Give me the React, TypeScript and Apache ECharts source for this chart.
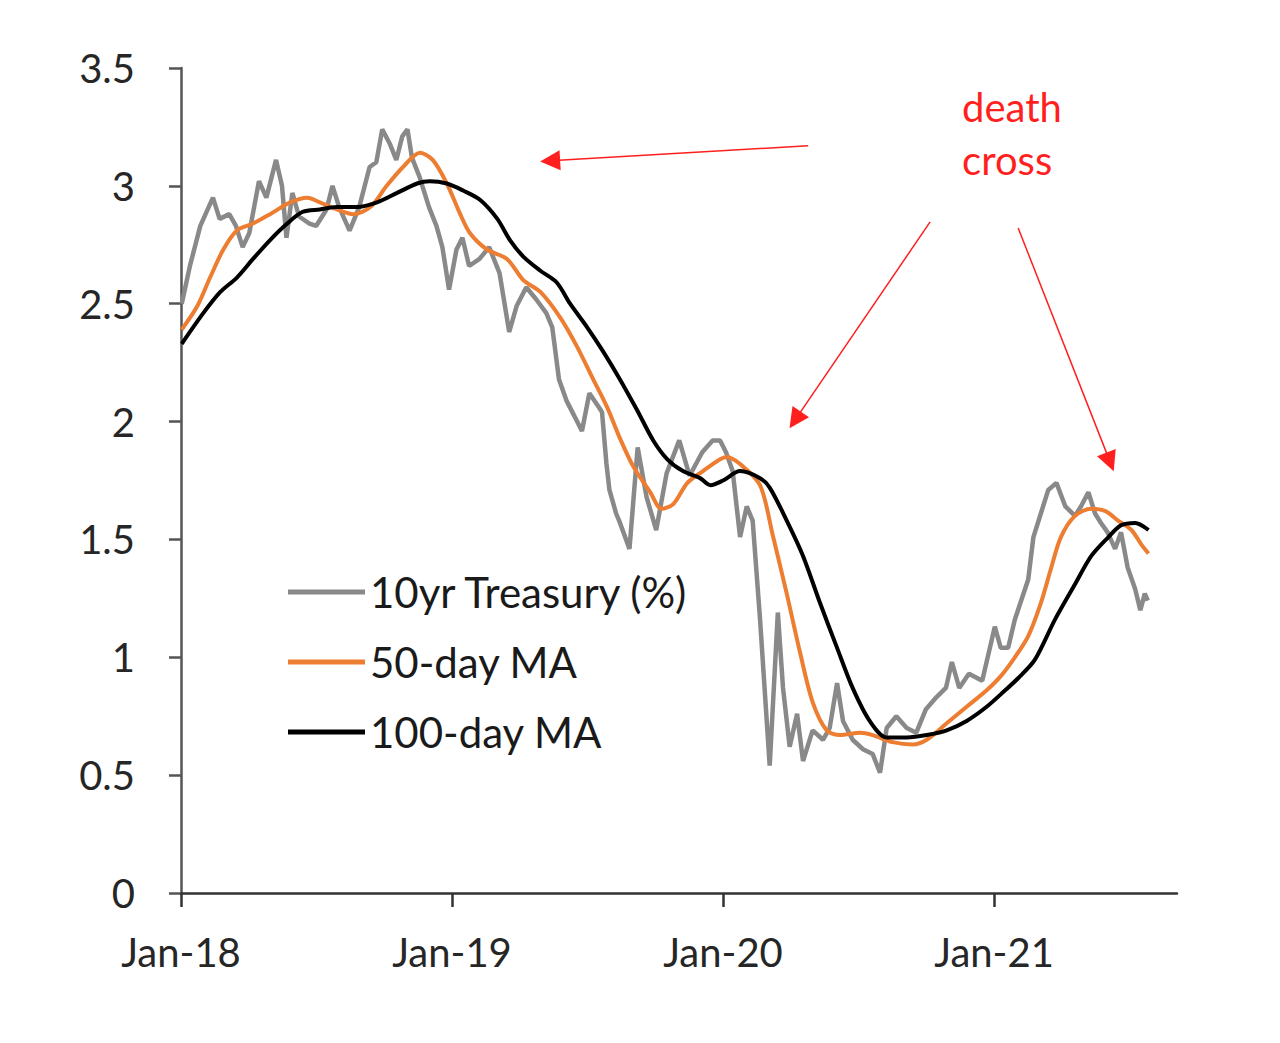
import React, { useEffect, useRef } from 'react';
import * as echarts from 'echarts';

// 10yr Treasury yield (%)
const treasury: [string, number][] = [
  ['2018-01-02', 2.5], ['2018-01-13', 2.66], ['2018-01-27', 2.83], ['2018-02-13', 2.95],
  ['2018-02-22', 2.86], ['2018-03-07', 2.88], ['2018-03-16', 2.83], ['2018-03-25', 2.74],
  ['2018-04-03', 2.8], ['2018-04-16', 3.02], ['2018-04-26', 2.95], ['2018-05-09', 3.11],
  ['2018-05-17', 3.0], ['2018-05-23', 2.78], ['2018-05-31', 2.97], ['2018-06-09', 2.87],
  ['2018-06-23', 2.84], ['2018-07-02', 2.83], ['2018-07-16', 2.9], ['2018-07-24', 3.0],
  ['2018-08-02', 2.91], ['2018-08-16', 2.81], ['2018-08-29', 2.91], ['2018-09-12', 3.08],
  ['2018-09-21', 3.1], ['2018-09-29', 3.24], ['2018-10-09', 3.18], ['2018-10-18', 3.11],
  ['2018-10-26', 3.21], ['2018-11-02', 3.24], ['2018-11-08', 3.12], ['2018-11-18', 3.04],
  ['2018-12-01', 2.91], ['2018-12-11', 2.83], ['2018-12-19', 2.74], ['2018-12-28', 2.56],
  ['2019-01-07', 2.73], ['2019-01-15', 2.78], ['2019-01-24', 2.66], ['2019-02-07', 2.69],
  ['2019-02-20', 2.74], ['2019-03-06', 2.63], ['2019-03-19', 2.38], ['2019-03-29', 2.49],
  ['2019-04-11', 2.57], ['2019-04-24', 2.52], ['2019-05-08', 2.46], ['2019-05-16', 2.4],
  ['2019-05-25', 2.18], ['2019-06-04', 2.09], ['2019-06-17', 2.01], ['2019-06-25', 1.96],
  ['2019-07-05', 2.12], ['2019-07-18', 2.06], ['2019-07-22', 2.04], ['2019-07-28', 1.82],
  ['2019-08-01', 1.71], ['2019-08-10', 1.61], ['2019-08-14', 1.58], ['2019-08-28', 1.46],
  ['2019-09-08', 1.89], ['2019-09-20', 1.68], ['2019-10-03', 1.54], ['2019-10-17', 1.78],
  ['2019-11-03', 1.92], ['2019-11-17', 1.77], ['2019-12-04', 1.87], ['2019-12-18', 1.92],
  ['2019-12-28', 1.92], ['2020-01-05', 1.87], ['2020-01-14', 1.79], ['2020-01-24', 1.51],
  ['2020-02-02', 1.64], ['2020-02-10', 1.58], ['2020-02-20', 1.16], ['2020-03-04', 0.54],
  ['2020-03-15', 1.19], ['2020-03-22', 0.87], ['2020-03-31', 0.62], ['2020-04-10', 0.76],
  ['2020-04-18', 0.56], ['2020-05-01', 0.69], ['2020-05-15', 0.65], ['2020-05-24', 0.7],
  ['2020-06-03', 0.89], ['2020-06-11', 0.73], ['2020-06-24', 0.65], ['2020-07-08', 0.61],
  ['2020-07-21', 0.59], ['2020-07-31', 0.51], ['2020-08-09', 0.7], ['2020-08-22', 0.75],
  ['2020-09-05', 0.7], ['2020-09-18', 0.68], ['2020-10-01', 0.78], ['2020-10-15', 0.83],
  ['2020-10-28', 0.87], ['2020-11-05', 0.98], ['2020-11-15', 0.87], ['2020-11-28', 0.93],
  ['2020-12-16', 0.9], ['2021-01-02', 1.13], ['2021-01-10', 1.04], ['2021-01-20', 1.04],
  ['2021-01-29', 1.16], ['2021-02-16', 1.33], ['2021-02-23', 1.51], ['2021-03-05', 1.61],
  ['2021-03-15', 1.71], ['2021-03-26', 1.74], ['2021-04-07', 1.64], ['2021-04-20', 1.6],
  ['2021-04-28', 1.64], ['2021-05-08', 1.7], ['2021-05-17', 1.61], ['2021-05-25', 1.57],
  ['2021-06-03', 1.53], ['2021-06-13', 1.46], ['2021-06-21', 1.53], ['2021-06-30', 1.38],
  ['2021-07-10', 1.29], ['2021-07-17', 1.2], ['2021-07-23', 1.27], ['2021-07-27', 1.24],
];

const ma50: [string, number][] = [
  ['2018-01-02', 2.39], ['2018-01-23', 2.49], ['2018-02-09', 2.61], ['2018-02-27', 2.73],
  ['2018-03-17', 2.81], ['2018-04-08', 2.84], ['2018-05-01', 2.88], ['2018-05-28', 2.93],
  ['2018-06-20', 2.95], ['2018-07-07', 2.93], ['2018-07-30', 2.9], ['2018-08-21', 2.88],
  ['2018-09-13', 2.91], ['2018-10-05', 3.0], ['2018-10-27', 3.08], ['2018-11-19', 3.14],
  ['2018-12-06', 3.11], ['2018-12-25', 3.01], ['2019-01-12', 2.88], ['2019-01-25', 2.8],
  ['2019-02-17', 2.73], ['2019-03-16', 2.69], ['2019-04-07', 2.6], ['2019-04-30', 2.55],
  ['2019-05-27', 2.44], ['2019-06-18', 2.32], ['2019-07-10', 2.18], ['2019-07-29', 2.06],
  ['2019-08-15', 1.93], ['2019-09-02', 1.81], ['2019-09-25', 1.7], ['2019-10-10', 1.63],
  ['2019-10-26', 1.65], ['2019-11-14', 1.74], ['2019-12-05', 1.79], ['2019-12-28', 1.84],
  ['2020-01-06', 1.85], ['2020-01-24', 1.82], ['2020-02-20', 1.73], ['2020-03-08', 1.52],
  ['2020-03-27', 1.27], ['2020-04-14', 1.02], ['2020-05-01', 0.81], ['2020-05-20', 0.69],
  ['2020-06-07', 0.67], ['2020-07-04', 0.68], ['2020-07-21', 0.67], ['2020-08-17', 0.64],
  ['2020-09-13', 0.63], ['2020-10-02', 0.65], ['2020-10-29', 0.72], ['2020-11-25', 0.79],
  ['2020-12-22', 0.86], ['2021-01-10', 0.92], ['2021-01-29', 1.0], ['2021-02-16', 1.09],
  ['2021-03-05', 1.23], ['2021-03-19', 1.38], ['2021-04-01', 1.51], ['2021-04-20', 1.6],
  ['2021-05-12', 1.63], ['2021-05-31', 1.62], ['2021-06-17', 1.58], ['2021-07-05', 1.54],
  ['2021-07-18', 1.48], ['2021-07-28', 1.44],
];

const ma100: [string, number][] = [
  ['2018-01-02', 2.33], ['2018-01-31', 2.46], ['2018-02-23', 2.55], ['2018-03-17', 2.61],
  ['2018-04-08', 2.69], ['2018-05-01', 2.77], ['2018-05-24', 2.84], ['2018-06-14', 2.89],
  ['2018-07-07', 2.9], ['2018-07-30', 2.91], ['2018-08-26', 2.91], ['2018-09-22', 2.93],
  ['2018-10-19', 2.97], ['2018-11-15', 3.01], ['2018-12-02', 3.02], ['2018-12-25', 3.01],
  ['2019-01-16', 2.98], ['2019-02-08', 2.94], ['2019-03-03', 2.86], ['2019-03-20', 2.77],
  ['2019-04-07', 2.7], ['2019-04-30', 2.64], ['2019-05-22', 2.59], ['2019-06-09', 2.5],
  ['2019-07-02', 2.4], ['2019-07-23', 2.3], ['2019-08-15', 2.18], ['2019-09-07', 2.05],
  ['2019-09-29', 1.92], ['2019-10-18', 1.84], ['2019-11-08', 1.79], ['2019-12-01', 1.76],
  ['2019-12-15', 1.73], ['2020-01-01', 1.75], ['2020-01-24', 1.79], ['2020-02-20', 1.76],
  ['2020-03-04', 1.72], ['2020-03-27', 1.58], ['2020-04-18', 1.43], ['2020-05-11', 1.23],
  ['2020-06-03', 1.04], ['2020-06-24', 0.87], ['2020-07-17', 0.73], ['2020-08-09', 0.66],
  ['2020-09-05', 0.66], ['2020-10-02', 0.67], ['2020-10-29', 0.69], ['2020-11-25', 0.73],
  ['2020-12-22', 0.79], ['2021-01-16', 0.86], ['2021-02-02', 0.91], ['2021-02-25', 0.99],
  ['2021-03-24', 1.16], ['2021-04-20', 1.31], ['2021-05-12', 1.43], ['2021-06-04', 1.51],
  ['2021-06-21', 1.56], ['2021-07-10', 1.57], ['2021-07-28', 1.54],
];

const seriesNames = ['10yr Treasury (%)', '50-day MA', '100-day MA'];
const yearTicks = [2018, 2019, 2020, 2021];

// "death cross" annotation: arrows [from, to] in [year, value]
const deathCrossArrows: [number, number][][] = [
  [[2020.314, 3.17], [2019.362, 3.106]],
  [[2020.764, 2.847], [2020.266, 2.007]],
  [[2021.089, 2.821], [2021.428, 1.829]],
];
const deathCrossLabel: [number, number] = [2020.882, 3.445];

// date string -> fractional year, so the value axis runs in years
const toYear = (d: string) => {
  const [y, m, day] = d.split('-').map(Number);
  const start = Date.UTC(y, 0, 1);
  const end = Date.UTC(y + 1, 0, 1);
  return y + (Date.UTC(y, m - 1, day) - start) / (end - start);
};
const toPoints = (rows: [string, number][]) => rows.map(([d, v]) => [toYear(d), v]);

const FONT = 'Lato';
const RED = '#ff1f1f';

const App: React.FC = () => {
  const chartRef = useRef<HTMLDivElement>(null);

  useEffect(() => {
    document.body.style.margin = '0';
    if (!chartRef.current) return;
    const chart = echarts.init(chartRef.current, undefined, { renderer: 'svg' });

    chart.setOption({
      animation: false,
      backgroundColor: '#fff',
      textStyle: { fontFamily: FONT },
      grid: { left: 181, right: 103, top: 68, bottom: 150 },
      legend: {
        data: seriesNames,
        orient: 'vertical',
        left: 283,
        top: 566,
        icon: 'rect',
        itemWidth: 77,
        itemHeight: 5,
        itemGap: 28,
        textStyle: { fontFamily: FONT, fontSize: 42, lineHeight: 42, color: '#1a1a1a' },
      },
      xAxis: {
        type: 'value',
        min: 2018,
        max: 2021.675,
        splitLine: { show: false },
        axisLine: { show: true, lineStyle: { color: '#333', width: 2.5 } },
        axisTick: {
          show: true,
          length: 14,
          customValues: yearTicks,
          lineStyle: { color: '#333', width: 2.5 },
        },
        axisLabel: {
          customValues: yearTicks,
          margin: 39,
          fontFamily: FONT,
          fontSize: 40,
          color: '#262626',
          formatter: (v: number) => 'Jan-' + String(Math.round(v)).slice(2),
        },
      },
      yAxis: {
        type: 'value',
        min: 0,
        max: 3.5,
        interval: 0.5,
        splitLine: { show: false },
        axisLine: { show: true, lineStyle: { color: '#555', width: 2.5 } },
        axisTick: { show: true, length: 12, lineStyle: { color: '#555', width: 2.5 } },
        axisLabel: { margin: 46, fontFamily: FONT, fontSize: 40, color: '#262626' },
      },
      series: [
        {
          name: seriesNames[0],
          type: 'line',
          data: toPoints(treasury),
          symbol: 'none',
          lineStyle: { color: '#898989', width: 4.5 },
          itemStyle: { color: '#898989' },
          markLine: {
            silent: true,
            symbol: ['none', 'triangle'],
            symbolSize: 20,
            label: { show: false },
            lineStyle: { color: RED, width: 1.5, type: 'solid' },
            itemStyle: { color: RED },
            data: deathCrossArrows.map(([a, b]) => [{ coord: a }, { coord: b }]),
          },
          markPoint: {
            silent: true,
            symbol: 'circle',
            symbolSize: 0,
            data: [{ coord: deathCrossLabel }],
            label: {
              show: true,
              position: [0, 0],
              align: 'left',
              verticalAlign: 'top',
              formatter: 'death\ncross',
              fontFamily: FONT,
              fontSize: 40,
              lineHeight: 53,
              color: RED,
            },
          },
        },
        {
          name: seriesNames[1],
          type: 'line',
          data: toPoints(ma50),
          symbol: 'none',
          smooth: 0.3,
          lineStyle: { color: '#ed7d31', width: 4 },
          itemStyle: { color: '#ed7d31' },
        },
        {
          name: seriesNames[2],
          type: 'line',
          data: toPoints(ma100),
          symbol: 'none',
          smooth: 0.3,
          lineStyle: { color: '#000', width: 4 },
          itemStyle: { color: '#000' },
        },
      ],
    });

    return () => chart.dispose();
  }, []);

  return <div ref={chartRef} style={{ width: 1280, height: 1043 }} />;
};

export default App;
